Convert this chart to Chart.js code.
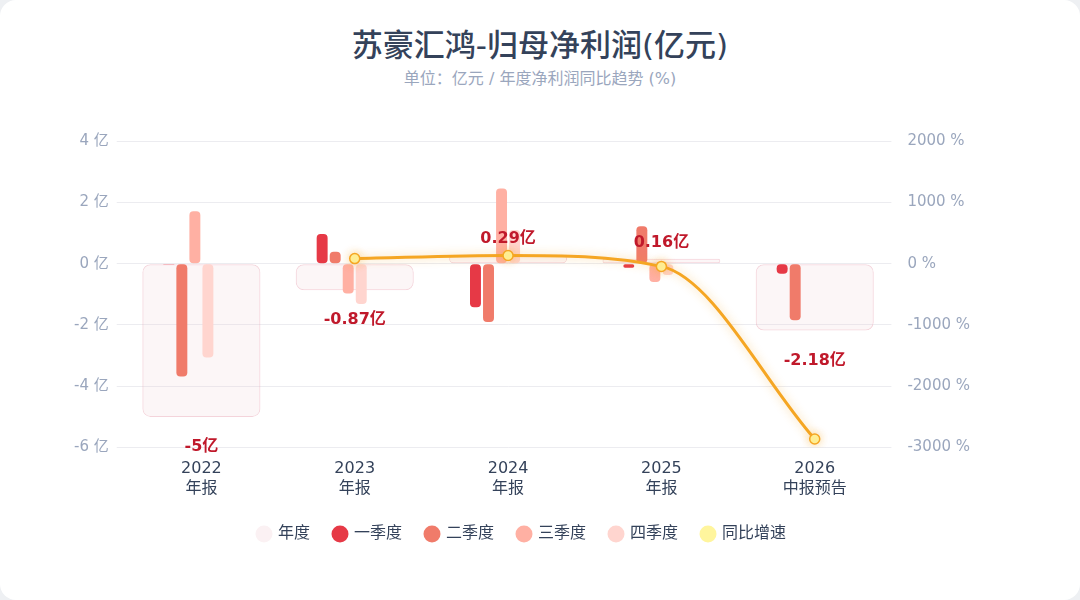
<!DOCTYPE html>
<html><head><meta charset="utf-8">
<script src="https://cdn.jsdelivr.net/npm/chart.js@4"></script>
<style>
  body { margin:0; background:#eef0f3; font-family:"DejaVu Sans","Noto Sans CJK SC",sans-serif; }
  .card { position:absolute; left:0; top:0; width:1080px; height:600px; background:#fff; border-radius:16px; }
  h1 { margin:0; position:absolute; top:20px; width:100%; text-align:center; font-size:31px; font-weight:500; color:#34425a; }
  .sub { position:absolute; top:65px; width:100%; text-align:center; font-size:16px; color:#9aa6bd; }
  .wrap { position:absolute; left:66px; top:124px; width:912px; height:462px; }
</style></head>
<body>
<div class="card">
  <h1>苏豪汇鸿-归母净利润(亿元)</h1>
  <div class="sub">单位：亿元 / 年度净利润同比趋势 (%)</div>
  <div class="wrap"><canvas id="c"></canvas></div>
</div>
<script>
const years = [['2022','年报'], ['2023','年报'], ['2024','年报'], ['2025','年报'], ['2026','中报预告']];
const annual = [-5, -0.87, 0.29, 0.16, -2.18];
const q1 = [-0.03, 0.97, -1.42, -0.13, -0.33];
const q2 = [-3.68, 0.39, -1.9, 1.22, -1.85];
const q3 = [1.71, -0.97, 2.45, -0.6, null];
const q4 = [-3.06, -1.32, 1.1, -0.37, null];
const growth = [null, 82.6, 133.3, -44.8, -2860];

const FONT = '"DejaVu Sans", "Noto Sans CJK SC", sans-serif';

const annualLabels = {
  id: 'annualLabels',
  afterDatasetsDraw(chart) {
    const ctx = chart.ctx, meta = chart.getDatasetMeta(0);
    ctx.save();
    ctx.font = 'bold 16px ' + FONT;
    ctx.fillStyle = '#c0192b';
    ctx.textAlign = 'center';
    meta.data.forEach((bar, i) => {
      const v = annual[i];
      const y = v >= 0 ? bar.y - 16 : bar.y + 30;
      ctx.fillText(v + '亿', bar.x, y);
    });
    ctx.restore();
  }
};

const lineGlow = {
  id: 'lineGlow',
  beforeDatasetDraw(chart, args) {
    if (args.index === 5) {
      chart.ctx.save();
      chart.ctx.shadowColor = 'rgba(245,166,35,0.45)';
      chart.ctx.shadowBlur = 10;
    }
  },
  afterDatasetDraw(chart, args) {
    if (args.index === 5) chart.ctx.restore();
  }
};

const legendGap = {
  id: 'legendGap',
  beforeInit(chart) {
    const fit = chart.legend.fit;
    chart.legend.fit = function () { fit.bind(chart.legend)(); this.height += 34; };
  }
};

const qBar = (label, data, color) => ({
  type: 'bar', label, data, backgroundColor: color, xAxisID: 'x', yAxisID: 'y',
  borderRadius: 4, borderSkipped: false, categoryPercentage: 0.68, barPercentage: 0.84, order: 2
});

new Chart(document.getElementById('c'), {
  data: {
    labels: years,
    datasets: [
      { type: 'bar', label: '年度', data: annual, xAxisID: 'x2', yAxisID: 'y', grouped: false,
        backgroundColor: 'rgba(240,210,215,0.2)', borderColor: 'rgba(230,160,175,0.45)', borderWidth: 1,
        borderRadius: 8, borderSkipped: false, categoryPercentage: 0.77, barPercentage: 1, order: 3 },
      qBar('一季度', q1, '#e63946'),
      qBar('二季度', q2, '#f07b6a'),
      qBar('三季度', q3, '#ffb0a3'),
      qBar('四季度', q4, '#ffd5cf'),
      { type: 'line', label: '同比增速', data: growth, yAxisID: 'y1', xAxisID: 'x',
        borderColor: '#f5a623', borderWidth: 3, tension: 0.4, cubicInterpolationMode: 'monotone',
        pointRadius: 5, pointBackgroundColor: '#fff59d', pointBorderColor: '#f5a623', pointBorderWidth: 1.5,
        backgroundColor: '#fff59d', order: 1 }
    ]
  },
  options: {
    responsive: true, maintainAspectRatio: false, animation: false,
    plugins: {
      legend: { position: 'bottom', labels: { usePointStyle: true, pointStyle: 'circle', boxWidth: 12, boxHeight: 12, padding: 24,
        color: '#34425a', font: { size: 16, family: FONT },
        generateLabels: (chart) => chart.data.datasets.map((d, i) => ({
          text: d.label, fillStyle: i === 0 ? '#fbf1f3' : (i === 5 ? '#fff59d' : d.backgroundColor),
          strokeStyle: 'transparent', lineWidth: 0, pointStyle: 'circle', datasetIndex: i, fontColor: '#34425a' })) } },
      tooltip: { enabled: false }
    },
    scales: {
      x: { grid: { display: false }, border: { display: false },
        ticks: { color: '#34425a', padding: 4, font: { size: 16, family: FONT } } },
      x2: { display: false, offset: true },
      y: { min: -6, max: 4, ticks: { stepSize: 2, color: '#9aa6bd', font: { size: 15, family: FONT }, padding: 8, callback: v => v + ' 亿' },
        grid: { color: '#ececf0' }, border: { display: false } },
      y1: { position: 'right', min: -3000, max: 2000, ticks: { stepSize: 1000, color: '#9aa6bd', font: { size: 15, family: FONT }, padding: 8, callback: v => v + ' %' },
        grid: { display: false }, border: { display: false } }
    }
  },
  plugins: [annualLabels, lineGlow, legendGap]
});
</script>
</body></html>
